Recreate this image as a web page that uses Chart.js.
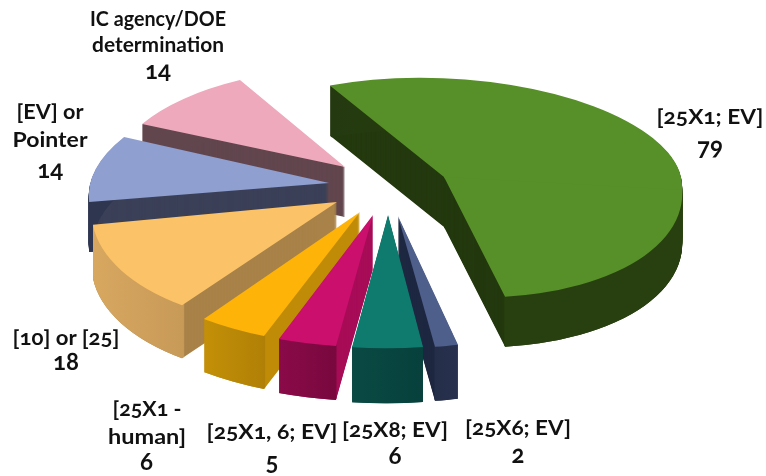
<!DOCTYPE html>
<html>
<head>
<meta charset="utf-8">
<script src="https://cdn.jsdelivr.net/npm/chart.js@4"></script>
<style>
html,body{margin:0;padding:0;background:#fff;}
#wrap{position:relative;width:766px;height:476px;overflow:hidden;}
canvas{position:absolute;left:0;top:0;}
.t{position:absolute;white-space:nowrap;color:#111;
   font-family:"Lato","Open Sans",sans-serif;font-weight:700;font-size:21px;line-height:1;
   font-variant-numeric:oldstyle-nums;font-feature-settings:"onum" 1;}
.v{font-size:24px;font-weight:700;}
</style>
</head>
<body>
<div id="wrap"><canvas id="c" width="766" height="476"></canvas></div>
<script>
const categories = ["[25X1; EV]", "[25X6; EV]", "[25X8; EV]", "[25X1, 6; EV]", "[25X1 -\nhuman]", "[10] or [25]", "[EV] or\nPointer", "IC agency/DOE\ndetermination"];
const values = [79, 2, 6, 5, 6, 18, 14, 14];

const topColors = ["#578f28", "#4f5f8b", "#0f7b6e", "#cb0f6c", "#feb308", "#fcc268", "#8f9fd0", "#eea9bd"];
const cutColors = ["#24390f", "#1f2840", "#0a4a44", "#a80d58", "#c08c08", "#a88248", "#3b4058", "#62464e"];
const rimStart  = ["#24390f", "#242e48", "#0a4a44", "#8a0a48", "#c49008", "#d8a860", "#2e3650", "#62464e"];
const rimEnd    = ["#28400f", "#283250", "#07403c", "#78083e", "#b08006", "#c89a58", "#2e3650", "#62464e"];

/* per-slice 3D look */
const explodeDistance = 60;
const explodeSquash = 0.5;
const nudgeX = [1.3, 0, 0.5, -0.3, 0.2, 0.3, 1.6, 2.6];
const nudgeY = [1.1, -0.5, -2, -1.2, -1.7, -1.3, -0.3, 0.1];
/* perspective matrices [a, b, c, d] */
const projection = [
  [0.992, 0.054, 0.032, 0.5],
  [1.116, 0.004, -0.001, 0.55],
  [1.132, 0, -0.012, 0.555],
  [1.126, 0.008, -0.017, 0.551],
  [1.096, 0.022, -0.036, 0.556],
  [1.019, 0, -0.083, 0.522],
  [0.994, 0.004, -0.122, 0.454],
  [0.954, 0.007, -0.054, 0.4165]
];
/* green slice spans back and front, so its far half is flatter */
const backProjection = {0: [0.992, 0.054, -0.032, 0.41]};
const wall = [50, 54, 55, 54, 53, 53, 50, 50];
const paintOrder = [0, 7, 6, 5, 1, 4, 3, 2];

const centerY = 187;
const radius = 240;

/* label layout: x and y centres, and fitted widths of the category lines */
const labelX = [710, 518, 395, 272, 146.5, 66, 50.3, 158];
const labelY = [[115, 146], [426, 454], [428, 455], [430, 461], [407, 435, 461], [336, 361], [110, 138, 169], [17, 43, 70]];
const labelW = [[107], [106], [106], [131], [69, 78], [107], [67, 75], [136, 132]];

const wrap = document.getElementById('wrap');
categories.forEach((cat, i) => {
  const lines = cat.split('\n');
  lines.concat(String(values[i])).forEach((txt, j) => {
    const isCat = j < lines.length;
    const d = document.createElement('div');
    d.className = isCat ? 't' : 't v';
    d.textContent = txt;
    d.style.left = labelX[i] + 'px';
    d.style.top = labelY[i][j] + 'px';
    wrap.appendChild(d);
    const w = d.getBoundingClientRect().width;
    const sx = isCat ? labelW[i][j] / w : 1;
    d.style.transform = 'translate(-50%,-50%) scaleX(' + sx.toFixed(3) + ')';
  });
});

function drawVariant(ctx, arc, color, inner) {
  const el = Object.create(arc);
  el.options = Object.assign({}, arc.options, {backgroundColor: color, borderWidth: 0, offset: 0});
  if (inner !== undefined) el.innerRadius = inner;
  el.draw(ctx);
}

const pie3d = {
  id: 'pie3d',
  beforeDatasetsDraw(chart) {
    const ctx = chart.ctx;
    const arcs = chart.getDatasetMeta(0).data;
    paintOrder.forEach(i => {
      const arc = arcs[i];
      const mid = (arc.startAngle + arc.endAngle) / 2;
      const ax = arc.x + Math.cos(mid) * explodeDistance + nudgeX[i];
      const ay = centerY + Math.sin(mid) * explodeDistance * explodeSquash + nudgeY[i];
      const paint = (down, color, inner) => {
        const parts = backProjection[i]
          ? [[backProjection[i], -radius - 2, radius + 6], [projection[i], 0, radius + 2]]
          : [[projection[i], null]];
        parts.forEach(([m, top, h]) => {
          ctx.save();
          ctx.translate(ax, ay + down);
          ctx.transform(m[0], m[1], m[2], m[3], 0, 0);
          if (top !== null) {
            ctx.beginPath();
            ctx.rect(-radius - 2, top, 2 * radius + 4, h);
            ctx.clip();
          }
          ctx.translate(-arc.x, -arc.y);
          drawVariant(ctx, arc, color, inner);
          ctx.restore();
        });
      };
      const x0 = arc.x + Math.cos(arc.startAngle) * radius;
      const x1 = arc.x + Math.cos(arc.endAngle) * radius;
      const g = ctx.createLinearGradient(Math.min(x0, x1), 0, Math.max(x0, x1) + 1, 0);
      g.addColorStop(0, rimStart[i]);
      g.addColorStop(1, rimEnd[i]);
      for (let d = wall[i]; d >= 1; d--) paint(d, cutColors[i]);
      for (let d = wall[i]; d >= 1; d--) paint(d, g, radius - 4);
      paint(0, topColors[i]);
    });
    return false;
  }
};

new Chart(document.getElementById('c'), {
  type: 'pie',
  data: {
    labels: categories.map(c => c.replace('\n', ' ')),
    datasets: [{data: values, backgroundColor: topColors, borderWidth: 0}]
  },
  options: {
    responsive: false,
    animation: false,
    rotation: -30.5,
    radius: radius,
    layout: {padding: {left: 8}},
    plugins: {legend: {display: false}, tooltip: {enabled: false}}
  },
  plugins: [pie3d]
});
</script>
</body>
</html>
